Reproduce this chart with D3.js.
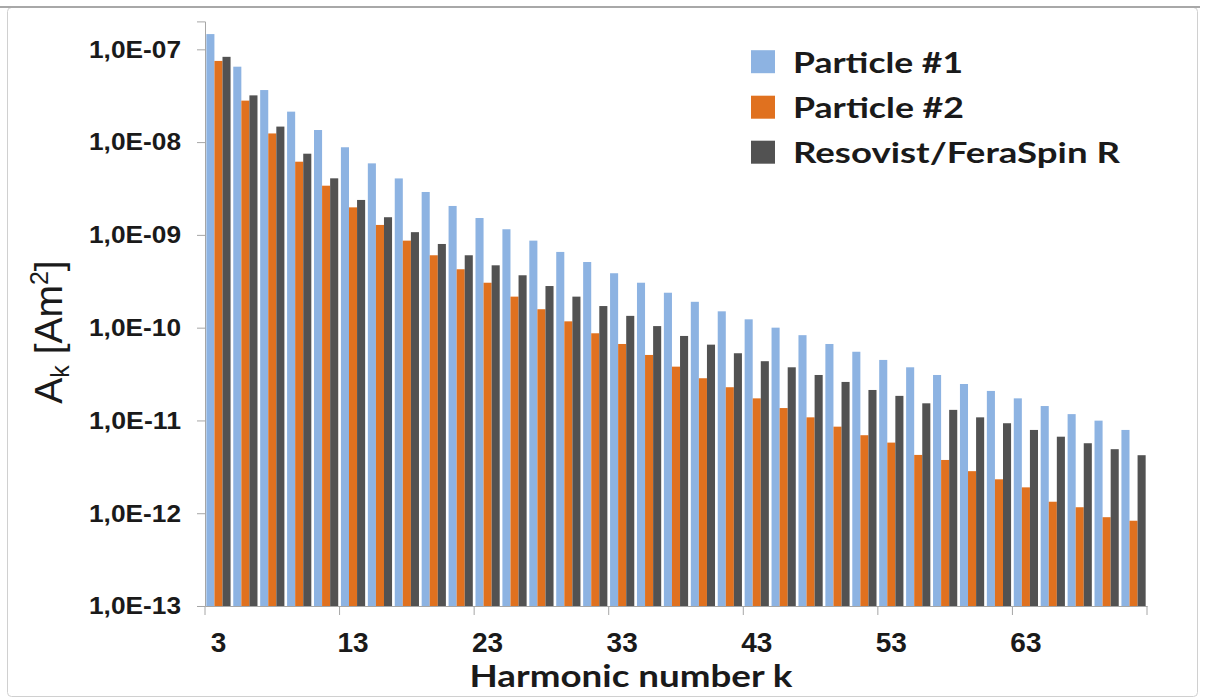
<!DOCTYPE html>
<html>
<head>
<meta charset="utf-8">
<script src="https://cdn.jsdelivr.net/npm/d3@7"></script>
<style>
  body { margin: 0; background: #fff; }
  svg { display: block; }
</style>
</head>
<body>
<div id="chart"></div>
<script>
// odd harmonics 3..71
var harmonics = [3, 5, 7, 9, 11, 13, 15, 17, 19, 21, 23, 25, 27, 29, 31, 33, 35, 37, 39, 41,
  43, 45, 47, 49, 51, 53, 55, 57, 59, 61, 63, 65, 67, 69, 71];

var particle1 = [1.46e-7, 6.5e-8, 3.64e-8, 2.13e-8, 1.35e-8, 8.8e-9, 5.9e-9, 4.06e-9, 2.9e-9, 2.05e-9,
  1.52e-9, 1.15e-9, 8.67e-10, 6.55e-10, 5.1e-10, 3.86e-10, 3.05e-10, 2.38e-10, 1.9e-10, 1.5e-10,
  1.23e-10, 1.0e-10, 8.3e-11, 6.67e-11, 5.5e-11, 4.49e-11, 3.74e-11, 3.09e-11, 2.47e-11, 2.08e-11,
  1.73e-11, 1.43e-11, 1.17e-11, 9.95e-12, 7.9e-12];

var particle2 = [7.5e-8, 2.8e-8, 1.24e-8, 6.15e-9, 3.39e-9, 1.98e-9, 1.28e-9, 8.67e-10, 6.03e-10, 4.26e-10,
  3.05e-10, 2.16e-10, 1.58e-10, 1.17e-10, 8.7e-11, 6.67e-11, 5.08e-11, 3.8e-11, 2.85e-11, 2.28e-11,
  1.73e-11, 1.36e-11, 1.08e-11, 8.57e-12, 6.93e-12, 5.77e-12, 4.25e-12, 3.75e-12, 2.84e-12, 2.32e-12,
  1.9e-12, 1.33e-12, 1.16e-12, 9.06e-13, 8.3e-13];

var resovist = [8.3e-8, 3.19e-8, 1.47e-8, 7.5e-9, 4.07e-9, 2.38e-9, 1.55e-9, 1.07e-9, 7.98e-10, 6.03e-10,
  4.7e-10, 3.67e-10, 2.81e-10, 2.16e-10, 1.71e-10, 1.34e-10, 1.04e-10, 8.14e-11, 6.56e-11, 5.3e-11,
  4.35e-11, 3.74e-11, 3.09e-11, 2.6e-11, 2.13e-11, 1.84e-11, 1.53e-11, 1.3e-11, 1.08e-11, 9.33e-12,
  7.9e-12, 6.68e-12, 5.68e-12, 4.9e-12, 4.22e-12];

var seriesNames = ["Particle #1", "Particle #2", "Resovist/FeraSpin R"];
var seriesColors = ["#8db3e2", "#e0711f", "#525252"];

var yTicks = [1e-13, 1e-12, 1e-11, 1e-10, 1e-9, 1e-8, 1e-7];
var xLabelKs = [3, 13, 23, 33, 43, 53, 63];

var svgWidth = 1205;
var svgHeight = 699;

var margin = { top: 21.4, right: 58, bottom: 93, left: 205 };
var width = 1147 - margin.left;
var height = 606 - margin.top;

var svg = d3.select("#chart")
  .append("svg")
  .attr("width", svgWidth)
  .attr("height", svgHeight);

// frame around the picture
svg.append("rect")
  .attr("x", 7.5).attr("y", 7.5)
  .attr("width", 1190).attr("height", 689)
  .attr("rx", 4)
  .attr("fill", "none")
  .attr("stroke", "#d0d0d0");
svg.append("line")
  .attr("x1", 0).attr("x2", 1200)
  .attr("y1", 7).attr("y2", 7)
  .attr("stroke", "#a8a8a8")
  .attr("stroke-width", 2);

var chartGroup = svg.append("g")
  .attr("transform", `translate(${margin.left}, ${margin.top})`);

var data = harmonics.map(function(k, i) {
  return { k: k, values: [particle1[i], particle2[i], resovist[i]] };
});

var x0 = d3.scaleBand()
  .domain(harmonics)
  .range([0, width])
  .paddingInner(0.1)
  .paddingOuter(0.05);

var x1 = d3.scaleBand()
  .domain([0, 1, 2])
  .range([0, x0.bandwidth()]);

var y = d3.scaleLog()
  .domain([1e-13, 2e-7])
  .range([height, 0]);

// bars
var groups = chartGroup.selectAll(".group")
  .data(data)
  .enter()
  .append("g")
  .attr("class", "group")
  .attr("transform", d => `translate(${x0(d.k)}, 0)`);

groups.selectAll("rect")
  .data(d => d.values.map((v, j) => ({ j: j, v: v })))
  .enter()
  .append("rect")
  .attr("x", d => x1(d.j))
  .attr("y", d => y(d.v))
  .attr("width", x1.bandwidth())
  .attr("height", d => height - y(d.v))
  .attr("fill", d => seriesColors[d.j]);

// y axis
var leftAxis = d3.axisLeft(y)
  .tickValues(yTicks)
  .tickSize(8)
  .tickPadding(16)
  .tickFormat(d => "1,0E-" + String(Math.round(-Math.log10(d))).padStart(2, "0"));

var yAxisG = chartGroup.append("g").call(leftAxis);
yAxisG.select(".domain").attr("stroke", "#a6a6a6");
yAxisG.selectAll(".tick line").attr("stroke", "#a6a6a6");
yAxisG.selectAll(".tick text")
  .attr("fill", "#1a1a1a")
  .style("font-family", "'Liberation Sans', Arial, sans-serif")
  .style("font-weight", "bold")
  .style("font-size", "24.5px")
  .attr("textLength", 92)
  .attr("lengthAdjust", "spacingAndGlyphs");

// x axis: labels on every 5th harmonic, tick marks on group boundaries
var bottomAxis = d3.axisBottom(x0)
  .tickValues(xLabelKs)
  .tickSize(0)
  .tickPadding(26);

var xAxisG = chartGroup.append("g")
  .attr("transform", `translate(0, ${height})`)
  .call(bottomAxis);
xAxisG.select(".domain").attr("stroke", "#a6a6a6");
xAxisG.selectAll(".tick text")
  .attr("fill", "#1a1a1a")
  .style("font-family", "'Liberation Sans', Arial, sans-serif")
  .style("font-weight", "bold")
  .style("font-size", "28px");

var boundaries = d3.range(0, harmonics.length + 1, 5);
xAxisG.selectAll(".boundary")
  .data(boundaries)
  .enter()
  .append("line")
  .attr("class", "boundary")
  .attr("x1", i => i * x0.step())
  .attr("x2", i => i * x0.step())
  .attr("y1", 0)
  .attr("y2", 9)
  .attr("stroke", "#a6a6a6");

// axis titles
svg.append("text")
  .attr("x", 631)
  .attr("y", 687)
  .attr("text-anchor", "middle")
  .style("font-family", "Lato, sans-serif")
  .style("font-weight", "bold")
  .style("font-size", "30px")
  .attr("fill", "#1a1a1a")
  .attr("textLength", 323)
  .attr("lengthAdjust", "spacingAndGlyphs")
  .text("Harmonic number k");

var yTitle = svg.append("text")
  .attr("transform", "translate(62, 332) rotate(-90)")
  .attr("text-anchor", "middle")
  .style("font-family", "'Liberation Sans', Arial, sans-serif")
  .style("font-size", "39px")
  .attr("fill", "#1a1a1a");
yTitle.append("tspan").text("A");
yTitle.append("tspan").attr("dy", 7).style("font-size", "25px").text("k");
yTitle.append("tspan").attr("dy", -7).text(" [Am");
yTitle.append("tspan").attr("dy", -14).style("font-size", "25px").text("2");
yTitle.append("tspan").attr("dy", 14).text("]");

// legend
var legendRows = [72.7, 118.2, 163.2];
var legendWidths = [170, 171, 327];
var legend = svg.selectAll(".legend")
  .data(seriesNames)
  .enter()
  .append("g")
  .attr("class", "legend");

legend.append("rect")
  .attr("x", 751)
  .attr("y", (d, i) => legendRows[i] - 22.5)
  .attr("width", 24)
  .attr("height", 23)
  .attr("fill", (d, i) => seriesColors[i]);

legend.append("text")
  .attr("x", 793)
  .attr("y", (d, i) => legendRows[i])
  .style("font-family", "Lato, sans-serif")
  .style("font-weight", "bold")
  .style("font-size", "29px")
  .attr("fill", "#1a1a1a")
  .attr("textLength", (d, i) => legendWidths[i])
  .attr("lengthAdjust", "spacingAndGlyphs")
  .text(d => d);
</script>
</body>
</html>
